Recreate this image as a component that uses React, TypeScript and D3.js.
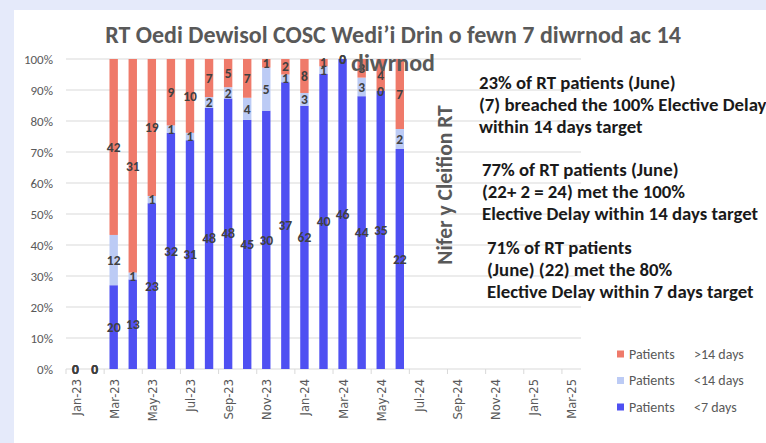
import React from "react";
import * as d3 from "d3";

// month axis (Jan-23 .. Mar-25), labels shown every 2nd month
const months = [
  "Jan-23", "Feb-23", "Mar-23", "Apr-23", "May-23", "Jun-23", "Jul-23", "Aug-23", "Sep-23",
  "Oct-23", "Nov-23", "Dec-23", "Jan-24", "Feb-24", "Mar-24", "Apr-24", "May-24", "Jun-24",
  "Jul-24", "Aug-24", "Sep-24", "Oct-24", "Nov-24", "Dec-24", "Jan-25", "Feb-25", "Mar-25",
];

// patient counts per month (Jan-23 .. Jun-24)
const under7 = [0, 0, 20, 13, 23, 32, 31, 48, 48, 45, 30, 37, 62, 40, 46, 44, 35, 22];
const under14 = [0, 0, 12, 1, 1, 1, 1, 2, 2, 4, 5, 1, 3, 1, 0, 3, 0, 2];
const over14 = [0, 0, 42, 31, 19, 9, 10, 7, 5, 7, 1, 2, 8, 1, 0, 3, 4, 7];

const seriesNames = ["Patients    <7 days", "Patients    <14 days", "Patients    >14 days"];
const seriesColors = ["#4f50f2", "#bccbf5", "#ef7a6a"];

const yTicks = [0, 0.1, 0.2, 0.3, 0.4, 0.5, 0.6, 0.7, 0.8, 0.9, 1];

const notes = [
  ["23% of RT patients (June)", "(7) breached the 100% Elective Delay", "within 14 days target"],
  ["77% of RT patients (June)", "(22+ 2 = 24) met the 100%", "Elective Delay within 14 days target"],
  ["71% of RT patients", "(June) (22) met the 80%", "Elective Delay within 7 days target"],
];

const W = 766;
const H = 443;
const plot = { left: 66, right: 581, top: 59, bottom: 369 };
const font = "Carlito, 'Liberation Sans Narrow', 'Liberation Sans', sans-serif";

export default function App() {
  const x = d3.scaleBand().domain(months).range([plot.left, plot.right]).paddingInner(0.56).paddingOuter(0.28);
  const y = d3.scaleLinear().domain([0, 1]).range([plot.bottom, plot.top]);
  const step = x.step();

  const rows = under7.map((v, i) => {
    const vals = [v, under14[i], over14[i]];
    const total = d3.sum(vals);
    let acc = 0;
    const segs = vals.map((val, k) => {
      const y0 = total ? acc / total : 0;
      acc += val;
      const y1 = total ? acc / total : 0;
      return { val, y0, y1, k };
    });
    return { month: months[i], segs };
  });

  const tickMonths = months.filter((_, i) => i % 2 === 0);

  return (
    <svg width={W} height={H} style={{ position: "absolute", left: 0, top: 0 }} fontFamily={font}>
      <rect x={0} y={0} width={W} height={H} fill="#e5eafa" />
      <rect x={14} y={10} width={W - 14} height={H - 10} fill="#ffffff" />

      {/* gridlines + y labels */}
      {yTicks.map((t) => (
        <g key={t}>
          <line x1={plot.left} x2={plot.right} y1={y(t)} y2={y(t)} stroke="#d9d9d9" strokeWidth={1} />
          <text x={53} y={y(t)} dy="0.35em" textAnchor="end" fontSize={13} fill="#595959">
            {d3.format(".0%")(t)}
          </text>
        </g>
      ))}

      {/* x ticks, every 2 months */}
      {d3.range(0, months.length + 1, 2).map((i) => {
        const xx = plot.left + i * step;
        return <line key={i} x1={xx} x2={xx} y1={plot.bottom} y2={plot.bottom + 5} stroke="#d9d9d9" />;
      })}
      {tickMonths.map((m) => {
        const cx = (x(m) as number) + x.bandwidth() / 2;
        return (
          <text
            key={m}
            transform={`translate(${cx + 5},${plot.bottom + 10}) rotate(-90)`}
            textAnchor="end"
            fontSize={11.5}
            fill="#595959"
            fontFamily="'DejaVu Sans', sans-serif"
          >
            {m}
          </text>
        );
      })}

      {/* bars */}
      {rows.map((r) =>
        r.segs.map((s) =>
          s.val > 0 ? (
            <rect
              key={r.month + s.k}
              x={x(r.month)}
              y={y(s.y1)}
              width={x.bandwidth()}
              height={y(s.y0) - y(s.y1)}
              fill={seriesColors[s.k]}
            />
          ) : null
        )
      )}

      {/* data labels */}
      {rows.map((r) =>
        r.segs.map((s) => (
          <text
            key={"l" + r.month + s.k}
            x={(x(r.month) as number) + x.bandwidth() / 2}
            y={y((s.y0 + s.y1) / 2)}
            dy="0.35em"
            textAnchor="middle"
            fontSize={13.5}
            fontWeight="bold"
            fill="#404040"
          >
            {s.val}
          </text>
        ))
      )}

      {/* title */}
      <text x={393} y={43} textAnchor="middle" fontSize={24} fontWeight="bold" fill="#595959">
        RT Oedi Dewisol COSC Wedi’i Drin o fewn 7 diwrnod ac 14
      </text>
      <text x={393} y={71} textAnchor="middle" fontSize={24} fontWeight="bold" fill="#595959">
        diwrnod
      </text>

      {/* axis title */}
      <text
        transform="translate(452,185) rotate(-90)"
        textAnchor="middle"
        fontSize={21.5}
        fontWeight="bold"
        fill="#595959"
      >
        Nifer y Cleifion RT
      </text>

      {/* notes */}
      {notes.map((block, b) =>
        block.map((line, j) => (
          <text
            key={b + "-" + j}
            x={[479, 482, 487][b]}
            y={[89, 176, 254][b] + j * 21.8}
            fontSize={18.8}
            fontWeight="bold"
            fill="#1a1a1a"
          >
            {line}
          </text>
        ))
      )}

      {/* legend */}
      {[2, 1, 0].map((k, i) => {
        const ly = 354 + i * 26.5;
        const [a, bText] = seriesNames[k].split(/\s{2,}/);
        return (
          <g key={k}>
            <rect x={617} y={ly - 3.5} width={7} height={7} fill={seriesColors[k]} />
            <text x={629} y={ly} dy="0.35em" fontSize={14} fill="#595959">
              {a}
            </text>
            <text x={694} y={ly} dy="0.35em" fontSize={14} fill="#595959">
              {bText}
            </text>
          </g>
        );
      })}
    </svg>
  );
}
